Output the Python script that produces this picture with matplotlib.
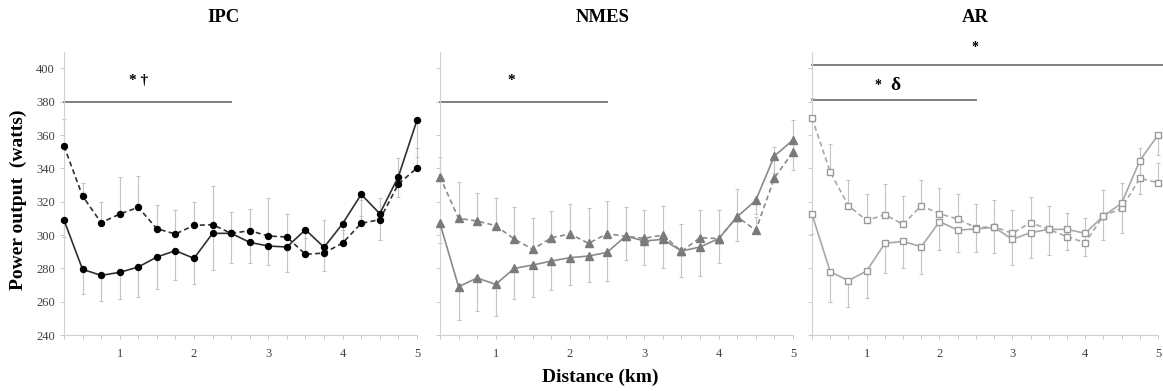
import matplotlib
matplotlib.use('Agg')
import matplotlib.pyplot as plt
from matplotlib.ticker import MultipleLocator

plt.rcParams['font.family'] = ['Liberation Serif', 'DejaVu Serif']

# distance markers (km)
dist = [0.25, 0.5, 0.75, 1.0, 1.25, 1.5, 1.75, 2.0, 2.25, 2.5,
        2.75, 3.0, 3.25, 3.5, 3.75, 4.0, 4.25, 4.5, 4.75, 5.0]

# IPC
ipc_dash = [353.4, 323.4, 307.4, 312.6, 316.6, 303.8, 300.6, 305.8, 306.2, 301.0,
            302.6, 299.4, 298.8, 288.4, 289.2, 295.2, 307.0, 309.2, 330.6, 340.2]
ipc_solid = [309.0, 279.4, 275.8, 277.6, 280.8, 286.8, 290.6, 286.0, 301.0, 301.0,
             295.6, 293.4, 292.8, 303.2, 292.6, 306.8, 324.4, 312.8, 335.0, 368.8]
ipc_dash_sd = [16, 8, 12.6, 22, 19, 14, 14.4, 14, 23, 13,
               13, 22.6, 13.6, 10, 20, 8, 14, 13, 15.6, 12]
ipc_solid_sd = [10, 15, 15.4, 16, 18, 19, 17.6, 15.4, 22, 17.6,
                12.6, 11.4, 15, 14, 14, 10, 13, 16, 12.4, 22]

# NMES
nmes_dash = [335.0, 310.0, 308.4, 305.6, 297.6, 291.4, 298.4, 300.6, 295.0, 300.8,
             299.2, 298.0, 300.0, 290.2, 298.4, 297.8, 311.0, 302.8, 334.2, 349.8]
nmes_solid = [307.0, 269.0, 274.2, 270.4, 280.0, 282.0, 284.4, 286.4, 287.4, 289.6,
              299.4, 296.4, 297.4, 290.4, 292.8, 297.8, 311.0, 320.8, 347.4, 357.0]
nmes_dash_sd = [12, 21.6, 17, 16.4, 19, 18.6, 16, 18, 21, 19.8,
                17.6, 17, 17.6, 16.2, 16.6, 17.2, 16.4, 8, 18.4, 19]
nmes_solid_sd = [12, 20, 19.6, 19, 18.6, 19, 17.4, 16.4, 15.4, 17,
                 14.4, 14.4, 17, 15.4, 17.4, 14.4, 14.6, 8, 10, 18]

# AR
ar_dash = [370.2, 337.8, 317.6, 308.8, 312.2, 306.4, 317.6, 312.8, 309.6, 304.4,
           305.0, 301.0, 307.4, 303.4, 299.0, 295.4, 311.4, 316.0, 334.0, 331.4]
ar_solid = [312.4, 278.0, 272.6, 278.4, 295.0, 296.2, 293.0, 308.0, 303.0, 303.6,
            304.6, 297.4, 301.4, 303.4, 303.4, 301.0, 311.4, 319.0, 344.6, 360.0]
ar_dash_sd = [12, 16.6, 15.4, 15.8, 18.4, 17.2, 15.4, 15.2, 15, 14,
              16, 14, 15.6, 14, 14.4, 14.6, 15.6, 15.4, 18, 12]
ar_solid_sd = [12, 18, 16, 16.4, 18, 15.8, 16.6, 17, 13.4, 13.6,
               15.6, 15.4, 15.4, 15.4, 12.4, 13.6, 14.4, 17.6, 20, 12]

titles = ['IPC', 'NMES', 'AR']
yticks = [240, 260, 280, 300, 320, 340, 360, 380, 400]
xticks = [1, 2, 3, 4, 5]

fig = plt.figure(figsize=(11.63, 3.91), dpi=100)

# panel boxes [left, bottom, width, height]
boxes = [[0.055, 0.1432, 0.3035, 0.7246],
         [0.3783, 0.1432, 0.3035, 0.7246],
         [0.6982, 0.1432, 0.2975, 0.7246]]
title_x = [0.192, 0.5185, 0.839]
axes = [fig.add_axes(b) for b in boxes]

styles = [
    dict(color='#303030', marker='o', ms=4.3, mfc='black', mec='black'),
    dict(color='#8a8a8a', marker='^', ms=6, mfc='#7a7a7a', mec='#7a7a7a'),
    dict(color='#a8a8a8', marker='s', ms=5, mfc='white', mec='#9a9a9a'),
]
data = [
    (ipc_dash, ipc_dash_sd, ipc_solid, ipc_solid_sd),
    (nmes_dash, nmes_dash_sd, nmes_solid, nmes_solid_sd),
    (ar_dash, ar_dash_sd, ar_solid, ar_solid_sd),
]

for i, ax in enumerate(axes):
    dash, dash_sd, solid, solid_sd = data[i]
    st = styles[i]
    zeros = [0] * len(dist)
    # error bars: dashed series upward, solid series downward
    ax.errorbar(dist, dash, yerr=[zeros, dash_sd], fmt='none', ecolor='#c4c4c4',
                elinewidth=0.8, capsize=1.5, capthick=0.8, clip_on=False, zorder=1)
    ax.errorbar(dist, solid, yerr=[solid_sd, zeros], fmt='none', ecolor='#c4c4c4',
                elinewidth=0.8, capsize=1.5, capthick=0.8, clip_on=False, zorder=1)
    ax.plot(dist, dash, ls=(0, (3, 2)), lw=1.2, clip_on=False, zorder=3, **st)
    ax.plot(dist, solid, ls='-', lw=1.2, clip_on=False, zorder=3, **st)

    ax.set_xlim(0.25, 5.0)
    ax.set_ylim(240, 410)
    for s in ['top', 'right']:
        ax.spines[s].set_visible(False)
    for s in ['left', 'bottom']:
        ax.spines[s].set_color('#d0d0d0')
        ax.spines[s].set_linewidth(0.8)
    ax.set_xticks(xticks)
    ax.xaxis.set_minor_locator(MultipleLocator(0.25))
    ax.set_yticks(yticks)
    ax.tick_params(axis='both', which='both', colors='#c8c8c8', length=3, width=0.7,
                   labelcolor='#404040', labelsize=9)
    ax.tick_params(axis='x', pad=6)
    if i > 0:
        ax.set_yticklabels([])
    fig.text(title_x[i], 0.954, titles[i], ha='center', va='center',
             fontsize=13.5, fontweight='bold')

# significance bars
sig = '#808080'
axes[0].plot([0.25, 2.5], [380, 380], color=sig, lw=1.4, clip_on=False)
axes[0].text(1.25, 393, '* †', ha='center', va='center', fontsize=11, fontweight='bold')
axes[1].plot([0.25, 2.5], [380, 380], color=sig, lw=1.4, clip_on=False)
axes[1].text(1.21, 393, '*', ha='center', va='center', fontsize=11, fontweight='bold')
axes[2].plot([0.25, 2.5], [381, 381], color=sig, lw=1.4, clip_on=False)
axes[2].plot([0.25, 5.2], [402, 402], color=sig, lw=1.4, clip_on=False)
axes[2].text(1.16, 390, '*', ha='center', va='center', fontsize=10, fontweight='bold')
axes[2].text(1.40, 390, 'δ', ha='center', va='center', fontsize=14, fontweight='bold')
axes[2].text(2.49, 412.5, '*', ha='center', va='center', fontsize=10,
             fontweight='bold', clip_on=False)

fig.text(0.0155, 0.488, 'Power output  (watts)', rotation=90, ha='center', va='center',
         fontsize=14, fontweight='bold')
fig.text(0.516, 0.034, 'Distance (km)', ha='center', va='center',
         fontsize=14, fontweight='bold')

fig.savefig('out.png', dpi=100)
